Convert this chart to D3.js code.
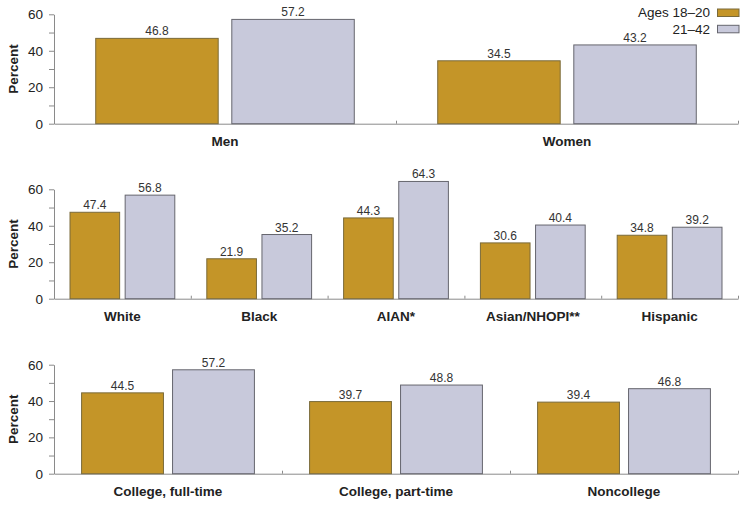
<!DOCTYPE html>
<html>
<head>
<meta charset="utf-8">
<script src="https://cdn.jsdelivr.net/npm/d3@7"></script>
<style>
  html, body { margin: 0; padding: 0; background: #fff; }
  svg { display: block; font-family: "Liberation Sans", Arial, Helvetica, sans-serif; }
</style>
</head>
<body>
<svg id="chart" width="748" height="506"></svg>
<script>
// ---- Data ----
const seriesNames = ["Ages 18\u201320", "21\u201342"];

const sexCategories = ["Men", "Women"];
const sexAges18to20 = [46.8, 34.5];
const sexAges21to42 = [57.2, 43.2];

const raceCategories = ["White", "Black", "AIAN*", "Asian/NHOPI**", "Hispanic"];
const raceAges18to20 = [47.4, 21.9, 44.3, 30.6, 34.8];
const raceAges21to42 = [56.8, 35.2, 64.3, 40.4, 39.2];

const collegeCategories = ["College, full-time", "College, part-time", "Noncollege"];
const collegeAges18to20 = [44.5, 39.7, 39.4];
const collegeAges21to42 = [57.2, 48.8, 46.8];

const yTickValues = [0, 10, 20, 30, 40, 50, 60];
const yLabelValues = [0, 20, 40, 60];

// ---- Styles ----
const colors = ["#C49528", "#C8C9DB"];
const strokes = ["#7a6a3a", "#66666e"];
const axisColor = "#8a8a8a";
const textColor = "#222";

const svg = d3.select("#chart");

const panels = [
  { cats: sexCategories, a: sexAges18to20, b: sexAges21to42, y0: 123.7, y60: 14.3, outer: 0.122 },
  { cats: raceCategories, a: raceAges18to20, b: raceAges21to42, y0: 298.7, y60: 189.3, outer: 0.117 },
  { cats: collegeCategories, a: collegeAges18to20, b: collegeAges21to42, y0: 473.7, y60: 364.7, outer: 0.121 }
];

const xLeft = 54, xRight = 738;

panels.forEach(p => {
  const g = svg.append("g");
  const x = d3.scaleBand().domain(p.cats).range([xLeft, xRight]).padding(0);
  const y = d3.scaleLinear().domain([0, 60]).range([p.y0, p.y60]);
  const bw = x.bandwidth();
  const xs = d3.scaleBand().domain([0, 1])
    .range([bw * p.outer, bw * (1 - p.outer)])
    .paddingInner(0.1).paddingOuter(0);

  // y axis
  const yAxis = d3.axisLeft(y).tickValues(yTickValues).tickSize(5).tickSizeOuter(0).tickPadding(6)
    .tickFormat(d => yLabelValues.includes(d) ? d : "");
  const ya = g.append("g").attr("transform", `translate(${xLeft},0)`).call(yAxis);
  ya.select(".domain").attr("stroke", axisColor);
  ya.selectAll(".tick line").attr("stroke", axisColor);
  ya.selectAll(".tick text").attr("font-size", 13.5).attr("fill", textColor)
    .attr("font-family", "'Liberation Sans', Arial, sans-serif");

  // x axis baseline with boundary ticks
  const boundaries = p.cats.map(c => x(c) + bw);
  const xAxisScale = d3.scaleLinear().domain([xLeft, xRight]).range([xLeft, xRight]);
  const xa = g.append("g").attr("transform", `translate(0,${p.y0})`)
    .call(d3.axisTop(xAxisScale).tickValues(boundaries).tickSize(3).tickSizeOuter(0).tickFormat(""));
  xa.select(".domain").attr("stroke", axisColor);
  xa.selectAll(".tick line").attr("stroke", axisColor);

  // bars
  p.cats.forEach((c, i) => {
    [p.a[i], p.b[i]].forEach((v, s) => {
      const bx = x(c) + xs(s);
      g.append("rect")
        .attr("x", bx).attr("y", y(v))
        .attr("width", xs.bandwidth()).attr("height", y(0) - y(v))
        .attr("fill", colors[s]).attr("stroke", strokes[s]).attr("stroke-width", 1);
      g.append("text")
        .attr("x", bx + xs.bandwidth() / 2).attr("y", y(v) - 3)
        .attr("text-anchor", "middle").attr("font-size", 12).attr("fill", "#333")
        .text(v.toFixed(1));
    });
    g.append("text")
      .attr("x", x(c) + bw / 2).attr("y", p.y0 + 22)
      .attr("text-anchor", "middle").attr("font-size", 13.5).attr("font-weight", "bold")
      .attr("fill", textColor).text(c);
  });

  // y label
  g.append("text")
    .attr("transform", `translate(18,${(p.y0 + p.y60) / 2}) rotate(-90)`)
    .attr("text-anchor", "middle").attr("font-size", 13.5).attr("font-weight", "bold")
    .attr("fill", textColor).text("Percent");
});

// legend
const legend = svg.append("g");
seriesNames.forEach((name, i) => {
  const ty = 17.3 + i * 16.3;
  legend.append("text").attr("x", 710).attr("y", ty)
    .attr("text-anchor", "end").attr("font-size", 13.5).attr("fill", textColor).text(name);
  legend.append("rect").attr("x", 717.5).attr("y", ty - 8.3).attr("width", 21.5).attr("height", 7.5)
    .attr("fill", colors[i]).attr("stroke", strokes[i]).attr("stroke-width", 1);
});
</script>
</body>
</html>
